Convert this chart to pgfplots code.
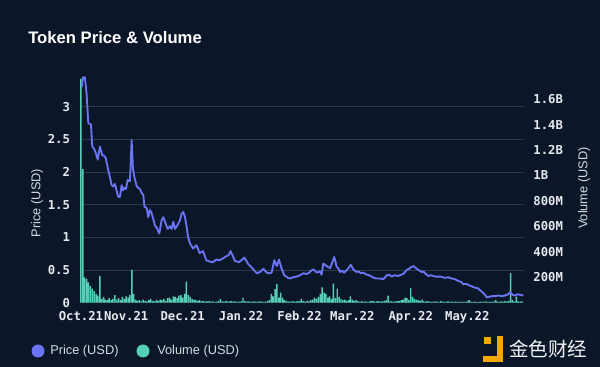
\documentclass[border=0pt]{standalone}
\usepackage{pgfplots}
\usepackage{pgfplotstable}
\pgfplotsset{compat=1.18}
\usepackage{fontspec}
\setmainfont{Liberation Sans}
\newfontfamily\monof{DejaVu Sans Mono}
\newfontfamily\cjk{Noto Sans CJK SC}
\definecolor{bg}{HTML}{0B1729}
\definecolor{gridc}{HTML}{2A394C}
\definecolor{pricec}{HTML}{6B74F2}
\definecolor{volc}{HTML}{55D0B6}
\definecolor{txt}{HTML}{D5D9DF}
\definecolor{tick}{HTML}{E6E9EE}
\definecolor{gold}{HTML}{F2A900}

\pgfplotstableread{
day price
7.4 3.30
8.1 3.45
9.1 3.45
10.0 3.20
10.9 2.75
12.3 2.73
13.0 2.39
13.9 2.36
14.8 2.30
15.9 2.19
17.1 2.39
18.3 2.26
19.2 2.25
20.1 2.22
21.5 2.03
22.4 1.92
23.3 1.80
24.1 1.78
25.0 1.82
25.9 1.72
26.8 1.62
27.7 1.62
28.6 1.80
29.3 1.72
30.0 1.76
30.9 1.74
31.8 1.88
33.0 1.86
33.9 2.49
34.6 2.05
35.3 1.93
36.6 1.78
37.4 1.76
38.3 1.74
39.2 1.68
40.1 1.65
40.7 1.47
41.9 1.45
42.7 1.31
43.6 1.42
44.4 1.38
45.1 1.31
46.3 1.18
47.2 1.15
47.9 1.10
48.6 1.06
49.8 1.26
50.7 1.31
52.0 1.21
53.0 1.13
54.2 1.17
55.1 1.13
56.0 1.24
56.9 1.13
58.1 1.18
59.5 1.26
60.4 1.36
61.3 1.39
62.2 1.31
63.1 1.16
63.9 1.00
64.8 0.91
66.5 0.83
68.3 0.88
70.0 0.76
71.8 0.79
73.5 0.65
75.3 0.63
77.0 0.62
78.8 0.66
80.6 0.65
82.4 0.68
84.1 0.71
85.4 0.73
86.4 0.79
87.5 0.72
88.7 0.64
90.9 0.62
92.5 0.66
93.7 0.69
94.8 0.64
95.8 0.59
97.6 0.54
98.8 0.50
100.3 0.45
102.0 0.47
103.8 0.52
105.6 0.46
106.8 0.45
108.2 0.46
109.6 0.65
110.9 0.56
112.1 0.66
113.5 0.52
114.9 0.42
117.0 0.38
117.9 0.37
119.5 0.39
121.5 0.40
123.2 0.42
125.0 0.45
126.4 0.44
127.7 0.45
129.1 0.49
130.4 0.51
132.2 0.46
133.9 0.48
134.7 0.43
135.6 0.60
137.4 0.56
139.2 0.53
140.2 0.60
141.4 0.70
142.7 0.55
143.7 0.52
144.5 0.47
145.5 0.49
146.6 0.46
148.0 0.50
149.0 0.53
150.2 0.58
151.5 0.51
153.3 0.47
154.3 0.48
155.5 0.45
156.8 0.46
158.6 0.43
159.9 0.42
161.3 0.40
162.5 0.38
163.9 0.37
165.7 0.37
167.5 0.36
169.3 0.42
170.5 0.43
171.9 0.40
173.6 0.42
175.2 0.41
177.2 0.43
178.4 0.45
179.8 0.50
181.1 0.52
182.5 0.55
183.5 0.56
184.3 0.54
185.7 0.51
186.7 0.49
187.8 0.47
188.8 0.48
189.6 0.45
191.3 0.41
192.8 0.42
194.9 0.40
197.6 0.40
200.2 0.38
201.8 0.39
203.8 0.37
205.5 0.36
207.3 0.33
208.7 0.32
209.9 0.28
211.4 0.29
212.6 0.27
214.4 0.25
216.1 0.23
217.7 0.22
218.8 0.19
220.1 0.16
221.4 0.12
222.3 0.08
223.6 0.09
225.0 0.10
226.8 0.10
228.5 0.11
230.3 0.10
232.1 0.11
233.7 0.13
234.7 0.16
236.0 0.12
237.4 0.11
238.7 0.13
240.0 0.12
241.8 0.11
}\pricetable

\pgfplotstableread{
day vol
7 1760
8 1050
9 200
10 185
11 160
12 130
13 110
14 90
15 70
16 55
17 210
18 30
19 45
20 25
21 20
22 35
23 20
24 30
25 60
26 25
27 35
28 20
29 45
30 30
31 50
32 40
33 60
34 258
35 70
36 25
37 15
38 20
39 10
40 25
41 15
42 10
43 20
44 30
45 15
46 10
47 20
48 15
49 25
50 20
51 30
52 15
53 35
54 40
55 25
56 50
57 45
58 35
59 55
60 60
61 40
62 70
63 165
64 60
65 45
66 30
67 25
68 20
69 15
70 20
71 10
72 15
73 8
74 10
75 12
76 8
77 10
78 6
79 8
80 12
81 30
82 10
83 8
84 15
85 8
86 10
87 12
88 8
89 10
90 6
91 8
92 10
93 40
94 12
95 8
96 10
97 6
98 8
99 10
100 6
101 8
102 10
103 8
104 6
105 8
106 12
107 20
108 70
109 50
110 107
111 146
112 40
113 80
114 40
115 20
116 15
117 10
118 8
119 12
120 10
121 8
122 15
123 10
124 30
125 12
126 8
127 15
128 10
129 20
130 25
131 40
132 30
133 45
134 70
135 120
136 80
137 70
138 40
139 50
140 30
141 150
142 35
143 110
144 45
145 30
146 20
147 25
148 15
149 20
150 50
151 25
152 15
153 20
154 10
155 8
156 12
157 8
158 10
159 6
160 8
161 12
162 15
163 8
164 10
165 12
166 8
167 10
168 15
169 20
170 55
171 12
172 10
173 8
174 10
175 12
176 15
177 20
178 25
179 40
180 35
181 20
182 115
183 45
184 30
185 25
186 20
187 15
188 25
189 10
190 8
191 12
192 8
193 6
194 8
195 10
196 8
197 6
198 15
199 8
200 6
201 8
202 10
203 6
204 8
205 6
206 8
207 6
208 8
209 6
210 8
211 6
212 10
213 20
214 8
215 6
216 8
217 6
218 5
219 8
220 6
221 8
222 10
223 6
224 8
225 6
226 8
227 20
228 8
229 6
230 10
231 8
232 12
233 10
234 15
235 232
236 20
237 10
238 47
239 10
240 8
241 10
}\voltable

\pgfplotsset{
  base/.style={
    scale only axis, width=333pt, height=169.275pt,
    at={(60pt,48.225pt)}, anchor=south west,
    xmin=6.5, xmax=242.1,
    axis line style={draw=none},
    major tick length=0pt,
    tick style={draw=none},
    ticklabel style={font=\monof\bfseries\fontsize{9.2}{10}\selectfont, text=tick},
  }
}

\begin{document}
\begin{tikzpicture}
\fill[bg] (0,0) rectangle (450pt,275.25pt);
\useasboundingbox (0,0) rectangle (450pt,275.25pt);

% price axis: grid, left ticks, x ticks
\begin{axis}[base,
  ymin=0, ymax=3.456,
  ytick={0,0.5,1,1.5,2,2.5,3},
  yticklabels={0,0.5,1,1.5,2,2.5,3},
  ymajorgrids, grid style={gridc, line width=0.6pt},
  xtick={7,31,61,92,123,151,182,212},
  xticklabels={Oct.21,Nov.21,Dec.21,Jan.22,Feb.22,Mar.22,Apr.22,May.22},
  xticklabel style={yshift=-3pt},
  yticklabel style={xshift=-4pt},
  ylabel={Price (USD)},
  every axis y label/.style={at={(axis description cs:-0.0968,0.4417)}, anchor=center, rotate=90,
     font=\fontsize{9.6}{11}\selectfont, text=txt},
]
\end{axis}

% volume axis: bars, right ticks
\begin{axis}[base,
  ymin=0, ymax=1774,
  xtick=\empty,
  ytick={200,400,600,800,1000,1200,1400,1600},
  yticklabels={200M,400M,600M,800M,1B,1.2B,1.4B,1.6B},
  yticklabel pos=right,
  yticklabel style={xshift=3.5pt, anchor=west},
  ylabel={Volume (USD)},
  every axis y label/.style={at={(axis description cs:1.135,0.508)}, anchor=center, rotate=90,
     font=\fontsize{9.6}{11}\selectfont, text=txt},
]
\addplot[ybar, fill=volc, draw=none, bar width=1.1pt] table[x=day, y=vol] {\voltable};
\end{axis}

% price line on top
\begin{axis}[base,
  ymin=0, ymax=3.456,
  xtick=\empty, ytick=\empty,
]
\addplot[pricec, line width=1.4pt, line join=round, mark=none] table[x=day, y=price] {\pricetable};
\end{axis}

\begin{scope}[x=0.75pt, y=0.75pt]
  \node[anchor=base west, inner sep=0, text=white, font=\bfseries\fontsize{12.5}{14}\selectfont] at (28,323) {Token Price \& Volume};
  \fill[pricec] (38,16) circle (6.5);
  \node[anchor=west, inner sep=0, text=txt, font=\fontsize{9.6}{11}\selectfont] at (50,16) {Price (USD)};
  \fill[volc] (143,16) circle (6.5);
  \node[anchor=west, inner sep=0, text=txt, font=\fontsize{9.6}{11}\selectfont] at (157,16) {Volume (USD)};
  % watermark logo
  \fill[gold] (484,23) rectangle (491,30);
  \fill[gold] (497,5) rectangle (503,31);
  \fill[gold] (483,5) rectangle (503,11);
  \node[anchor=west, inner sep=0, text=white!90!gray, font=\cjk\fontsize{14.6}{16}\selectfont] at (509,18) {金色财经};
\end{scope}
\end{tikzpicture}
\end{document}
